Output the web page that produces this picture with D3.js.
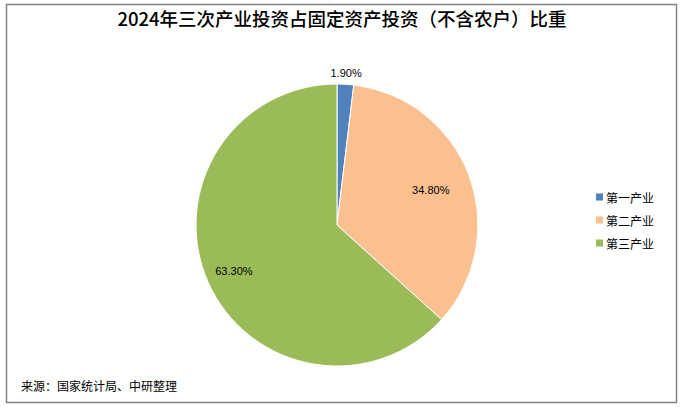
<!DOCTYPE html>
<html><head><meta charset="utf-8">
<script src="https://cdn.jsdelivr.net/npm/d3@7"></script>
<style>body{margin:0;background:#fff}svg{display:block}</style>
</head><body><svg id="c" width="687" height="407"></svg>
<script>
const title = "2024年三次产业投资占固定资产投资（不含农户）比重";
const categories = ["第一产业", "第二产业", "第三产业"];
const values = [1.90, 34.80, 63.30];
const source = "来源：国家统计局、中研整理";

const colors = ["#4F81BD", "#FAC090", "#9BBB59"];
const labelRadiusFactor = [1.08, 0.71, 0.80];

const svg = d3.select("#c");
svg.append("rect").attr("x", 6.5).attr("y", 4.5).attr("width", 670).attr("height", 398)
  .attr("fill", "#fff").attr("stroke", "#808080").attr("stroke-width", 1.5);

svg.append("text").attr("x", 342).attr("y", 26).attr("text-anchor", "middle")
  .attr("font-family", "'Noto Sans CJK SC', sans-serif").attr("font-size", 18.5).attr("font-weight", 500)
  .attr("fill", "#000").text(title);

const cx = 337, cy = 225, R = 141;
const pie = d3.pie().sort(null).value(d => d)(values);
const arc = d3.arc().innerRadius(0).outerRadius(R);
const g = svg.append("g").attr("transform", `translate(${cx},${cy})`);
g.selectAll("path").data(pie).join("path")
  .attr("d", arc).attr("fill", (d, i) => colors[i])
  .attr("stroke", "#fff").attr("stroke-width", 1);

g.selectAll("text.lbl").data(pie).join("text").attr("class", "lbl")
  .attr("transform", (d, i) => {
    const r = R * labelRadiusFactor[i];
    const a = d3.arc().innerRadius(r).outerRadius(r);
    const [x, y] = a.centroid(d);
    return `translate(${x},${y})`;
  })
  .attr("text-anchor", "middle").attr("dominant-baseline", "central")
  .attr("font-family", "'Liberation Sans', Arial, sans-serif").attr("font-size", 11)
  .attr("fill", "#000")
  .text(d => d.value.toFixed(2) + "%");

const leg = svg.append("g");
const ly = d3.scalePoint().domain(categories).range([197, 243]);
categories.forEach((c, i) => {
  leg.append("rect").attr("x", 596).attr("y", ly(c) - 3.5).attr("width", 7).attr("height", 7).attr("fill", colors[i]);
  leg.append("text").attr("x", 606).attr("y", ly(c)).attr("dominant-baseline", "central")
    .attr("font-family", "'Noto Sans CJK SC', sans-serif").attr("font-size", 12).attr("fill", "#000").text(c);
});

svg.append("text").attr("x", 21).attr("y", 385).attr("dominant-baseline", "central")
  .attr("font-family", "'Noto Sans CJK SC', sans-serif").attr("font-size", 12).attr("fill", "#000").text(source);
</script></body></html>
